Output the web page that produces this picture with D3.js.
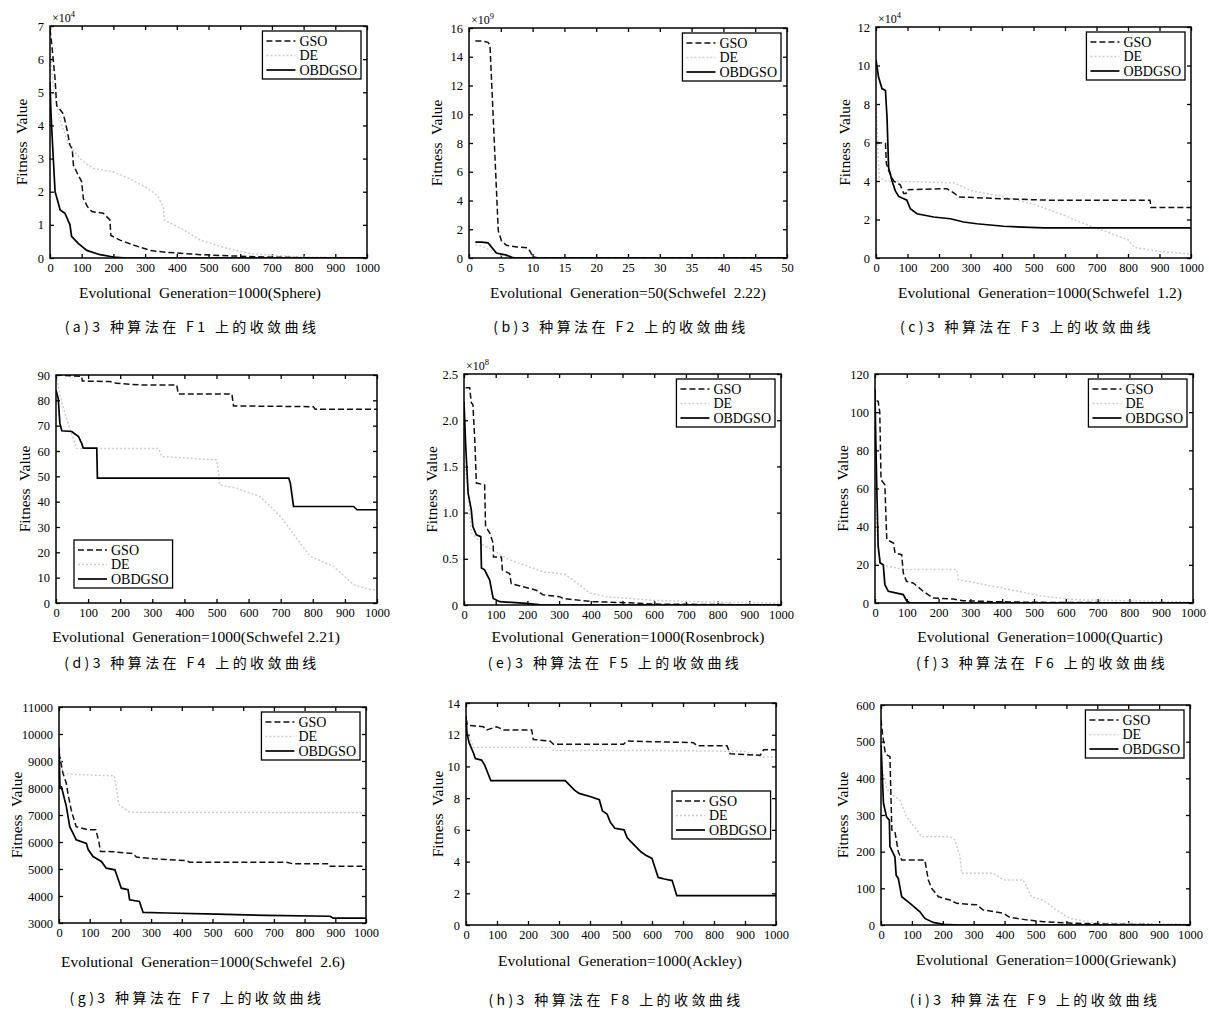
<!DOCTYPE html>
<html>
<head>
<meta charset="utf-8">
<script src="https://cdn.jsdelivr.net/npm/d3@7/dist/d3.min.js"></script>
<style>
    body { margin: 0; background: #fff; }
    text { font-family: "Liberation Serif", "DejaVu Serif", serif; fill: #000; }
    .cap { font-family: "Noto Sans CJK SC", sans-serif; }
</style>
</head>
<body>
<div id="chart"></div>
<script>
// Tick labels
var xTicks1000 = [0, 100, 200, 300, 400, 500, 600, 700, 800, 900, 1000];
var xTicks50 = [0, 5, 10, 15, 20, 25, 30, 35, 40, 45, 50];
var f1YTicks = [0, 1, 2, 3, 4, 5, 6, 7];
var f2YTicks = [0, 2, 4, 6, 8, 10, 12, 14, 16];
var f3YTicks = [0, 2, 4, 6, 8, 10, 12];
var f4YTicks = [0, 10, 20, 30, 40, 50, 60, 70, 80, 90];
var f5YTicks = [0, 0.5, 1.0, 1.5, 2.0, 2.5];
var f6YTicks = [0, 20, 40, 60, 80, 100, 120];
var f7YTicks = [3000, 4000, 5000, 6000, 7000, 8000, 9000, 10000, 11000];
var f8YTicks = [0, 2, 4, 6, 8, 10, 12, 14];
var f9YTicks = [0, 100, 200, 300, 400, 500, 600];

var seriesNames = ["GSO", "DE", "OBDGSO"];
var xTitles = [
    "Evolutional  Generation=1000(Sphere)",
    "Evolutional  Generation=50(Schwefel  2.22)",
    "Evolutional  Generation=1000(Schwefel  1.2)",
    "Evolutional  Generation=1000(Schwefel 2.21)",
    "Evolutional  Generation=1000(Rosenbrock)",
    "Evolutional  Generation=1000(Quartic)",
    "Evolutional  Generation=1000(Schwefel  2.6)",
    "Evolutional  Generation=1000(Ackley)",
    "Evolutional  Generation=1000(Griewank)"
];
var captions = [
    "(a)3 种算法在 F1 上的收敛曲线",
    "(b)3 种算法在 F2 上的收敛曲线",
    "(c)3 种算法在 F3 上的收敛曲线",
    "(d)3 种算法在 F4 上的收敛曲线",
    "(e)3 种算法在 F5 上的收敛曲线",
    "(f)3 种算法在 F6 上的收敛曲线",
    "(g)3 种算法在 F7 上的收敛曲线",
    "(h)3 种算法在 F8 上的收敛曲线",
    "(i)3 种算法在 F9 上的收敛曲线"
];

// Convergence data: [generation, fitness]
// F1 Sphere (x10^4)
var f1Gso = [[0,6.9],[5,6.5],[10,6.0],[16,5.4],[21,4.6],[30,4.5],[42,4.35],[53,3.9],[63,3.4],[70,3.3],[74,2.8],[89,2.5],[100,2.3],[105,1.8],[118,1.55],[132,1.4],[168,1.35],[189,1.15],[192,0.68],[221,0.54],[263,0.39],[316,0.23],[368,0.17],[400,0.15],[474,0.1],[579,0.06],[684,0.03],[790,0.01],[1000,0]];
var f1De = [[0,6.3],[10,5.2],[30,4.2],[60,3.4],[100,2.95],[137,2.7],[200,2.6],[250,2.4],[300,2.15],[337,1.9],[358,1.55],[360,1.15],[421,0.85],[474,0.54],[558,0.29],[632,0.13],[790,0.03],[1000,0]];
var f1Obd = [[0,5.3],[3,4.4],[6,3.8],[16,2.0],[25,1.7],[32,1.45],[47,1.35],[63,1.0],[68,0.65],[89,0.44],[116,0.23],[158,0.1],[200,0.03],[242,0],[1000,0]];
// F2 Schwefel 2.22 (x10^9)
var f2Gso = [[1,15.1],[2,15.1],[3,15.0],[3.3,14.8],[4.6,1.9],[5.1,1.2],[5.9,0.88],[7.5,0.77],[9.3,0.7],[10.1,0.07],[11,0],[50,0]];
var f2De = [[1,0.9],[2,0.85],[3,0.6],[4,0.4],[5,0.2],[6,0.1],[8,0.02],[50,0]];
var f2Obd = [[1,1.1],[2,1.1],[3,1.05],[4.3,0.35],[5.9,0.2],[7,0],[50,0]];
// F3 Schwefel 1.2 (x10^4)
var f3Gso = [[0,6.0],[30,5.95],[33,4.9],[40,4.55],[56,4.0],[77,3.8],[88,3.35],[95,3.35],[100,3.55],[225,3.6],[250,3.35],[262,3.17],[400,3.08],[553,3.0],[870,3.0],[873,2.62],[1000,2.62]];
var f3De = [[0,8.0],[5,6.0],[10,4.2],[30,4.0],[250,3.9],[300,3.5],[400,3.2],[500,2.8],[600,2.2],[650,1.85],[700,1.55],[800,0.95],[820,0.55],[900,0.35],[1000,0.2]];
var f3Obd = [[0,10.3],[8,9.4],[19,8.8],[30,8.7],[35,7.3],[40,4.7],[51,4.0],[61,3.5],[72,3.2],[98,3.0],[109,2.56],[130,2.3],[183,2.13],[236,2.04],[278,1.87],[320,1.78],[405,1.65],[532,1.56],[1000,1.56]];
// F4 Schwefel 2.21
var f4Gso = [[0,90],[80,89.5],[82,87.6],[168,87.4],[189,86.7],[262,86.1],[376,86.1],[381,82.5],[548,82.5],[553,77.8],[802,77.5],[807,76.5],[1000,76.5]];
var f4De = [[0,90],[20,78],[40,70],[64,61],[319,61],[330,57.8],[500,56.5],[506,51.9],[510,46.6],[563,45.3],[636,42],[699,34.2],[761,23.6],[792,18.4],[865,14.4],[927,7.2],[979,5.3],[1000,5]];
var f4Obd = [[0,84],[7,80.8],[12,71],[18,68],[49,67.7],[70,65.7],[80,63],[85,61.1],[127,61.1],[129,49.3],[725,49.3],[730,47.3],[740,38.1],[927,38.1],[938,36.8],[1000,36.8]];
// F5 Rosenbrock (x10^8)
var f5Gso = [[5,2.35],[18,2.35],[23,2.19],[28,2.17],[34,1.79],[39,1.32],[65,1.3],[68,0.85],[81,0.78],[92,0.67],[93,0.52],[118,0.52],[121,0.38],[144,0.34],[149,0.23],[228,0.16],[249,0.11],[302,0.09],[312,0.07],[407,0.036],[513,0.025],[600,0.01],[1000,0]];
var f5De = [[0,1.6],[10,1.3],[23,0.78],[60,0.65],[144,0.49],[249,0.36],[320,0.33],[397,0.13],[450,0.09],[600,0.05],[800,0.03],[1000,0.02]];
var f5Obd = [[0,2.2],[5,1.75],[13,1.21],[23,1.03],[28,0.85],[39,0.76],[53,0.74],[55,0.4],[65,0.38],[81,0.27],[92,0.07],[113,0.036],[197,0.018],[250,0],[1000,0]];
// F6 Quartic
var f6Gso = [[5,106],[10,105.7],[15,100],[19,64.6],[31,62],[37,33.2],[58,31.4],[63,26.2],[84,25.3],[89,15.7],[99,11.4],[120,10.5],[152,6.1],[183,2.6],[246,2.1],[277,1.2],[372,0.7],[500,0.35],[1000,0]];
var f6De = [[0,55],[5,43],[10,28],[20,20],[94,17.5],[257,17.5],[262,12.2],[319,10.5],[424,7],[529,3.5],[634,1.7],[1000,0.5]];
var f6Obd = [[0,112],[2,90],[5,64.6],[10,29.7],[16,21],[26,20],[31,9.6],[42,6.1],[89,4.4],[99,1.2],[110,0],[1000,0]];
// F7 Schwefel 2.6
var f7Gso = [[0,9300],[13,8540],[24,8170],[29,7800],[40,7180],[46,6940],[56,6570],[95,6450],[120,6450],[130,6000],[135,5650],[176,5640],[241,5570],[252,5440],[307,5380],[415,5310],[426,5250],[741,5250],[763,5190],[877,5190],[880,5100],[1000,5100]];
var f7De = [[0,9600],[8,8800],[15,8550],[55,8500],[180,8450],[187,8000],[195,7400],[230,7100],[1000,7080]];
var f7Obd = [[0,9500],[3,8040],[8,8040],[24,7310],[35,6570],[46,6320],[56,6080],[89,5950],[95,5720],[111,5460],[138,5280],[154,5030],[182,4970],[203,4290],[225,4230],[230,3860],[262,3800],[274,3390],[350,3370],[513,3330],[676,3280],[883,3250],[893,3180],[1000,3180]];
// F8 Ackley
var f8Gso = [[0,13.0],[5,12.6],[56,12.5],[67,12.3],[99,12.5],[121,12.3],[212,12.3],[217,11.7],[271,11.6],[282,11.4],[508,11.4],[519,11.6],[734,11.5],[745,11.3],[842,11.3],[852,10.8],[949,10.7],[960,11.05],[1000,11.05]];
var f8De = [[0,12.4],[10,11.9],[24,11.2],[271,11.2],[282,11.0],[637,11.0],[896,10.95],[950,10.6],[1000,10.6]];
var f8Obd = [[0,13.2],[3,12.1],[10,11.5],[25,10.8],[30,10.5],[50,10.4],[60,10.1],[70,9.6],[80,9.1],[320,9.1],[335,8.8],[350,8.5],[365,8.3],[400,8.1],[430,7.9],[440,7.2],[455,7.0],[465,6.5],[480,6.1],[510,6.0],[520,5.5],[535,5.2],[550,4.9],[565,4.6],[580,4.4],[600,4.2],[610,3.6],[620,3.0],[640,2.9],[665,2.8],[680,1.85],[1000,1.85]];
// F9 Griewank
var f9Gso = [[0,560],[5,520],[13,473],[18,464],[29,459],[35,259],[45,255],[56,200],[67,177],[142,177],[153,123],[164,100],[186,77],[223,68],[245,59],[310,55],[331,41],[396,32],[417,21],[471,14],[525,9],[633,4.5],[741,2],[1000,0]];
var f9De = [[0,520],[5,420],[20,370],[29,359],[61,341],[83,295],[132,241],[223,241],[239,232],[256,186],[261,141],[364,141],[396,123],[460,123],[471,105],[487,77],[525,68],[568,41],[612,18],[687,6],[1000,2]];
var f9Obd = [[0,490],[8,332],[18,295],[27,286],[29,214],[45,186],[49,136],[56,127],[67,77],[94,59],[126,36],[142,18],[169,7],[202,2],[250,0],[1000,0]];

// Panel layout (pixel boxes of each plot area)
var panels = [
    { series: [f1Gso, f1De, f1Obd], xTicks: xTicks1000, yTicks: f1YTicks, exp: "4", l: 50, r: 367, t: 26, b: 258, ylabX: 22, legend: "tr", titleX: 200, titleY: 293, capX: 192, capY: 327 },
    { series: [f2Gso, f2De, f2Obd], xTicks: xTicks50, yTicks: f2YTicks, exp: "9", l: 469, r: 787, t: 28, b: 258, ylabX: 437, legend: "tr", titleX: 628, titleY: 293, capX: 621, capY: 327 },
    { series: [f3Gso, f3De, f3Obd], xTicks: xTicks1000, yTicks: f3YTicks, exp: "4", l: 876, r: 1191, t: 27, b: 258, ylabX: 845, legend: "tr", titleX: 1040, titleY: 293, capX: 1027, capY: 327 },
    { series: [f4Gso, f4De, f4Obd], xTicks: xTicks1000, yTicks: f4YTicks, exp: null, l: 56, r: 377, t: 375, b: 603, ylabX: 25, legend: "bl", titleX: 196, titleY: 637, capX: 192, capY: 663 },
    { series: [f5Gso, f5De, f5Obd], xTicks: xTicks1000, yTicks: f5YTicks, exp: "8", l: 464, r: 781, t: 374, b: 605, ylabX: 432, legend: "tr", titleX: 628, titleY: 637, capX: 615, capY: 663 },
    { series: [f6Gso, f6De, f6Obd], xTicks: xTicks1000, yTicks: f6YTicks, exp: null, l: 875, r: 1193, t: 374, b: 603, ylabX: 843, legend: "tr", titleX: 1040, titleY: 637, capX: 1042, capY: 663 },
    { series: [f7Gso, f7De, f7Obd], xTicks: xTicks1000, yTicks: f7YTicks, exp: null, l: 59, r: 366, t: 707, b: 923, ylabX: 17, legend: "tr", titleX: 203, titleY: 962, capX: 197, capY: 998 },
    { series: [f8Gso, f8De, f8Obd], xTicks: xTicks1000, yTicks: f8YTicks, exp: null, l: 466, r: 776, t: 703, b: 925, ylabX: 438, legend: [672, 791], titleX: 620, titleY: 961, capX: 616, capY: 1000 },
    { series: [f9Gso, f9De, f9Obd], xTicks: xTicks1000, yTicks: f9YTicks, exp: null, l: 881, r: 1190, t: 705, b: 925, ylabX: 843, legend: "tr", titleX: 1046, titleY: 960, capX: 1035, capY: 1000 }
];

// Line styles for GSO, DE, OBDGSO
var lineStyles = [
    { stroke: "#111", width: 1.5, dash: "6,3" },
    { stroke: "#cdcdcd", width: 1.5, dash: "2,2" },
    { stroke: "#000", width: 1.7, dash: null }
];

var svg = d3.select("#chart")
    .append("svg")
    .attr("width", 1209)
    .attr("height", 1010)
    .style("background", "#fff");

panels.forEach(function (p, i) {
    var xMin = p.xTicks[0], xMax = p.xTicks[p.xTicks.length - 1];
    var yMin = p.yTicks[0], yMax = p.yTicks[p.yTicks.length - 1];

    var x = d3.scaleLinear().domain([xMin, xMax]).range([p.l, p.r]);
    var y = d3.scaleLinear().domain([yMin, yMax]).range([p.b, p.t]);

    var g = svg.append("g");

    g.append("clipPath")
        .attr("id", "clip" + i)
        .append("rect")
        .attr("x", p.l).attr("y", p.t)
        .attr("width", p.r - p.l).attr("height", p.b - p.t);

    var yFormat = (i === 4)
        ? function (d) { return d === 0 ? "0" : d.toFixed(1); }
        : d3.format("d");

    // Axes with inward ticks on all four sides
    var bottomAxis = g.append("g")
        .attr("transform", "translate(0," + p.b + ")")
        .call(d3.axisBottom(x).tickValues(p.xTicks).tickFormat(d3.format("d"))
            .tickSizeInner(-4).tickSizeOuter(0).tickPadding(5));
    var leftAxis = g.append("g")
        .attr("transform", "translate(" + p.l + ",0)")
        .call(d3.axisLeft(y).tickValues(p.yTicks).tickFormat(yFormat)
            .tickSizeInner(-4).tickSizeOuter(0).tickPadding(6));
    var topAxis = g.append("g")
        .attr("transform", "translate(0," + p.t + ")")
        .call(d3.axisTop(x).tickValues(p.xTicks).tickFormat("")
            .tickSizeInner(-4).tickSizeOuter(0));
    var rightAxis = g.append("g")
        .attr("transform", "translate(" + p.r + ",0)")
        .call(d3.axisRight(y).tickValues(p.yTicks).tickFormat("")
            .tickSizeInner(-4).tickSizeOuter(0));

    [bottomAxis, leftAxis, topAxis, rightAxis].forEach(function (a) {
        a.select(".domain").remove();
        a.selectAll("line").attr("stroke", "#000").attr("stroke-width", 1.3);
        a.attr("font-family", null).attr("font-size", null);
        a.selectAll("text")
            .style("font-family", "'Liberation Serif', serif")
            .style("font-size", "12.5px")
            .attr("fill", "#000");
    });

    // Curves
    var line = d3.line()
        .x(function (d) { return x(d[0]); })
        .y(function (d) { return y(d[1]); });

    var order = [1, 0, 2];
    order.forEach(function (k) {
        var st = lineStyles[k];
        g.append("path")
            .datum(p.series[k])
            .attr("clip-path", "url(#clip" + i + ")")
            .attr("d", line)
            .attr("fill", "none")
            .attr("stroke", st.stroke)
            .attr("stroke-width", st.width)
            .attr("stroke-dasharray", st.dash);
    });

    // Frame
    g.append("rect")
        .attr("x", p.l).attr("y", p.t)
        .attr("width", p.r - p.l).attr("height", p.b - p.t)
        .attr("fill", "none")
        .attr("stroke", "#000")
        .attr("stroke-width", 1.5);

    // Exponent label
    if (p.exp) {
        var ex = g.append("text")
            .attr("x", p.l + 2)
            .attr("y", p.t - 4)
            .style("font-size", "12px");
        ex.append("tspan").text("\u00d710");
        ex.append("tspan").attr("dy", -5).style("font-size", "8.5px").text(p.exp);
    }

    // Axis titles
    g.append("text")
        .attr("x", p.titleX)
        .attr("y", p.titleY + 5)
        .attr("text-anchor", "middle")
        .style("font-size", "15.5px")
        .style("white-space", "pre")
        .text(xTitles[i]);

    g.append("text")
        .attr("transform", "translate(" + (p.ylabX + 5) + "," + ((p.t + p.b) / 2) + ") rotate(-90)")
        .attr("text-anchor", "middle")
        .style("font-size", "15.5px")
        .style("white-space", "pre")
        .text("Fitness  Value");

    // Caption
    g.append("text")
        .attr("class", "cap")
        .attr("x", p.capX)
        .attr("y", p.capY + 5)
        .attr("text-anchor", "middle")
        .style("font-size", "14px")
        .style("letter-spacing", "3.4px")
        .text(captions[i]);

    // Legend
    var lg = g.append("g");
    var box = lg.append("rect").attr("fill", "#fff").attr("stroke", "#000").attr("stroke-width", 1.3);
    var maxW = 0;
    seriesNames.forEach(function (name, k) {
        var st = lineStyles[k];
        var ry = 10 + k * 14.5;
        lg.append("line")
            .attr("x1", 4).attr("x2", 33)
            .attr("y1", ry).attr("y2", ry)
            .attr("stroke", st.stroke)
            .attr("stroke-width", st.width)
            .attr("stroke-dasharray", st.dash);
        var t = lg.append("text")
            .attr("x", 37)
            .attr("y", ry + 4.5)
            .style("font-size", "14px")
            .text(name);
        maxW = Math.max(maxW, t.node().getComputedTextLength());
    });
    var lw = 37 + maxW + 4, lh = 48;
    box.attr("width", lw).attr("height", lh);
    var lx, ly;
    if (p.legend === "tr") { lx = p.r - 6 - lw; ly = p.t + 5; }
    else if (p.legend === "bl") { lx = p.l + 18; ly = p.b - 15 - lh; }
    else { lx = p.legend[0]; ly = p.legend[1]; }
    lg.attr("transform", "translate(" + lx + "," + ly + ")");
});
</script>
</body>
</html>
